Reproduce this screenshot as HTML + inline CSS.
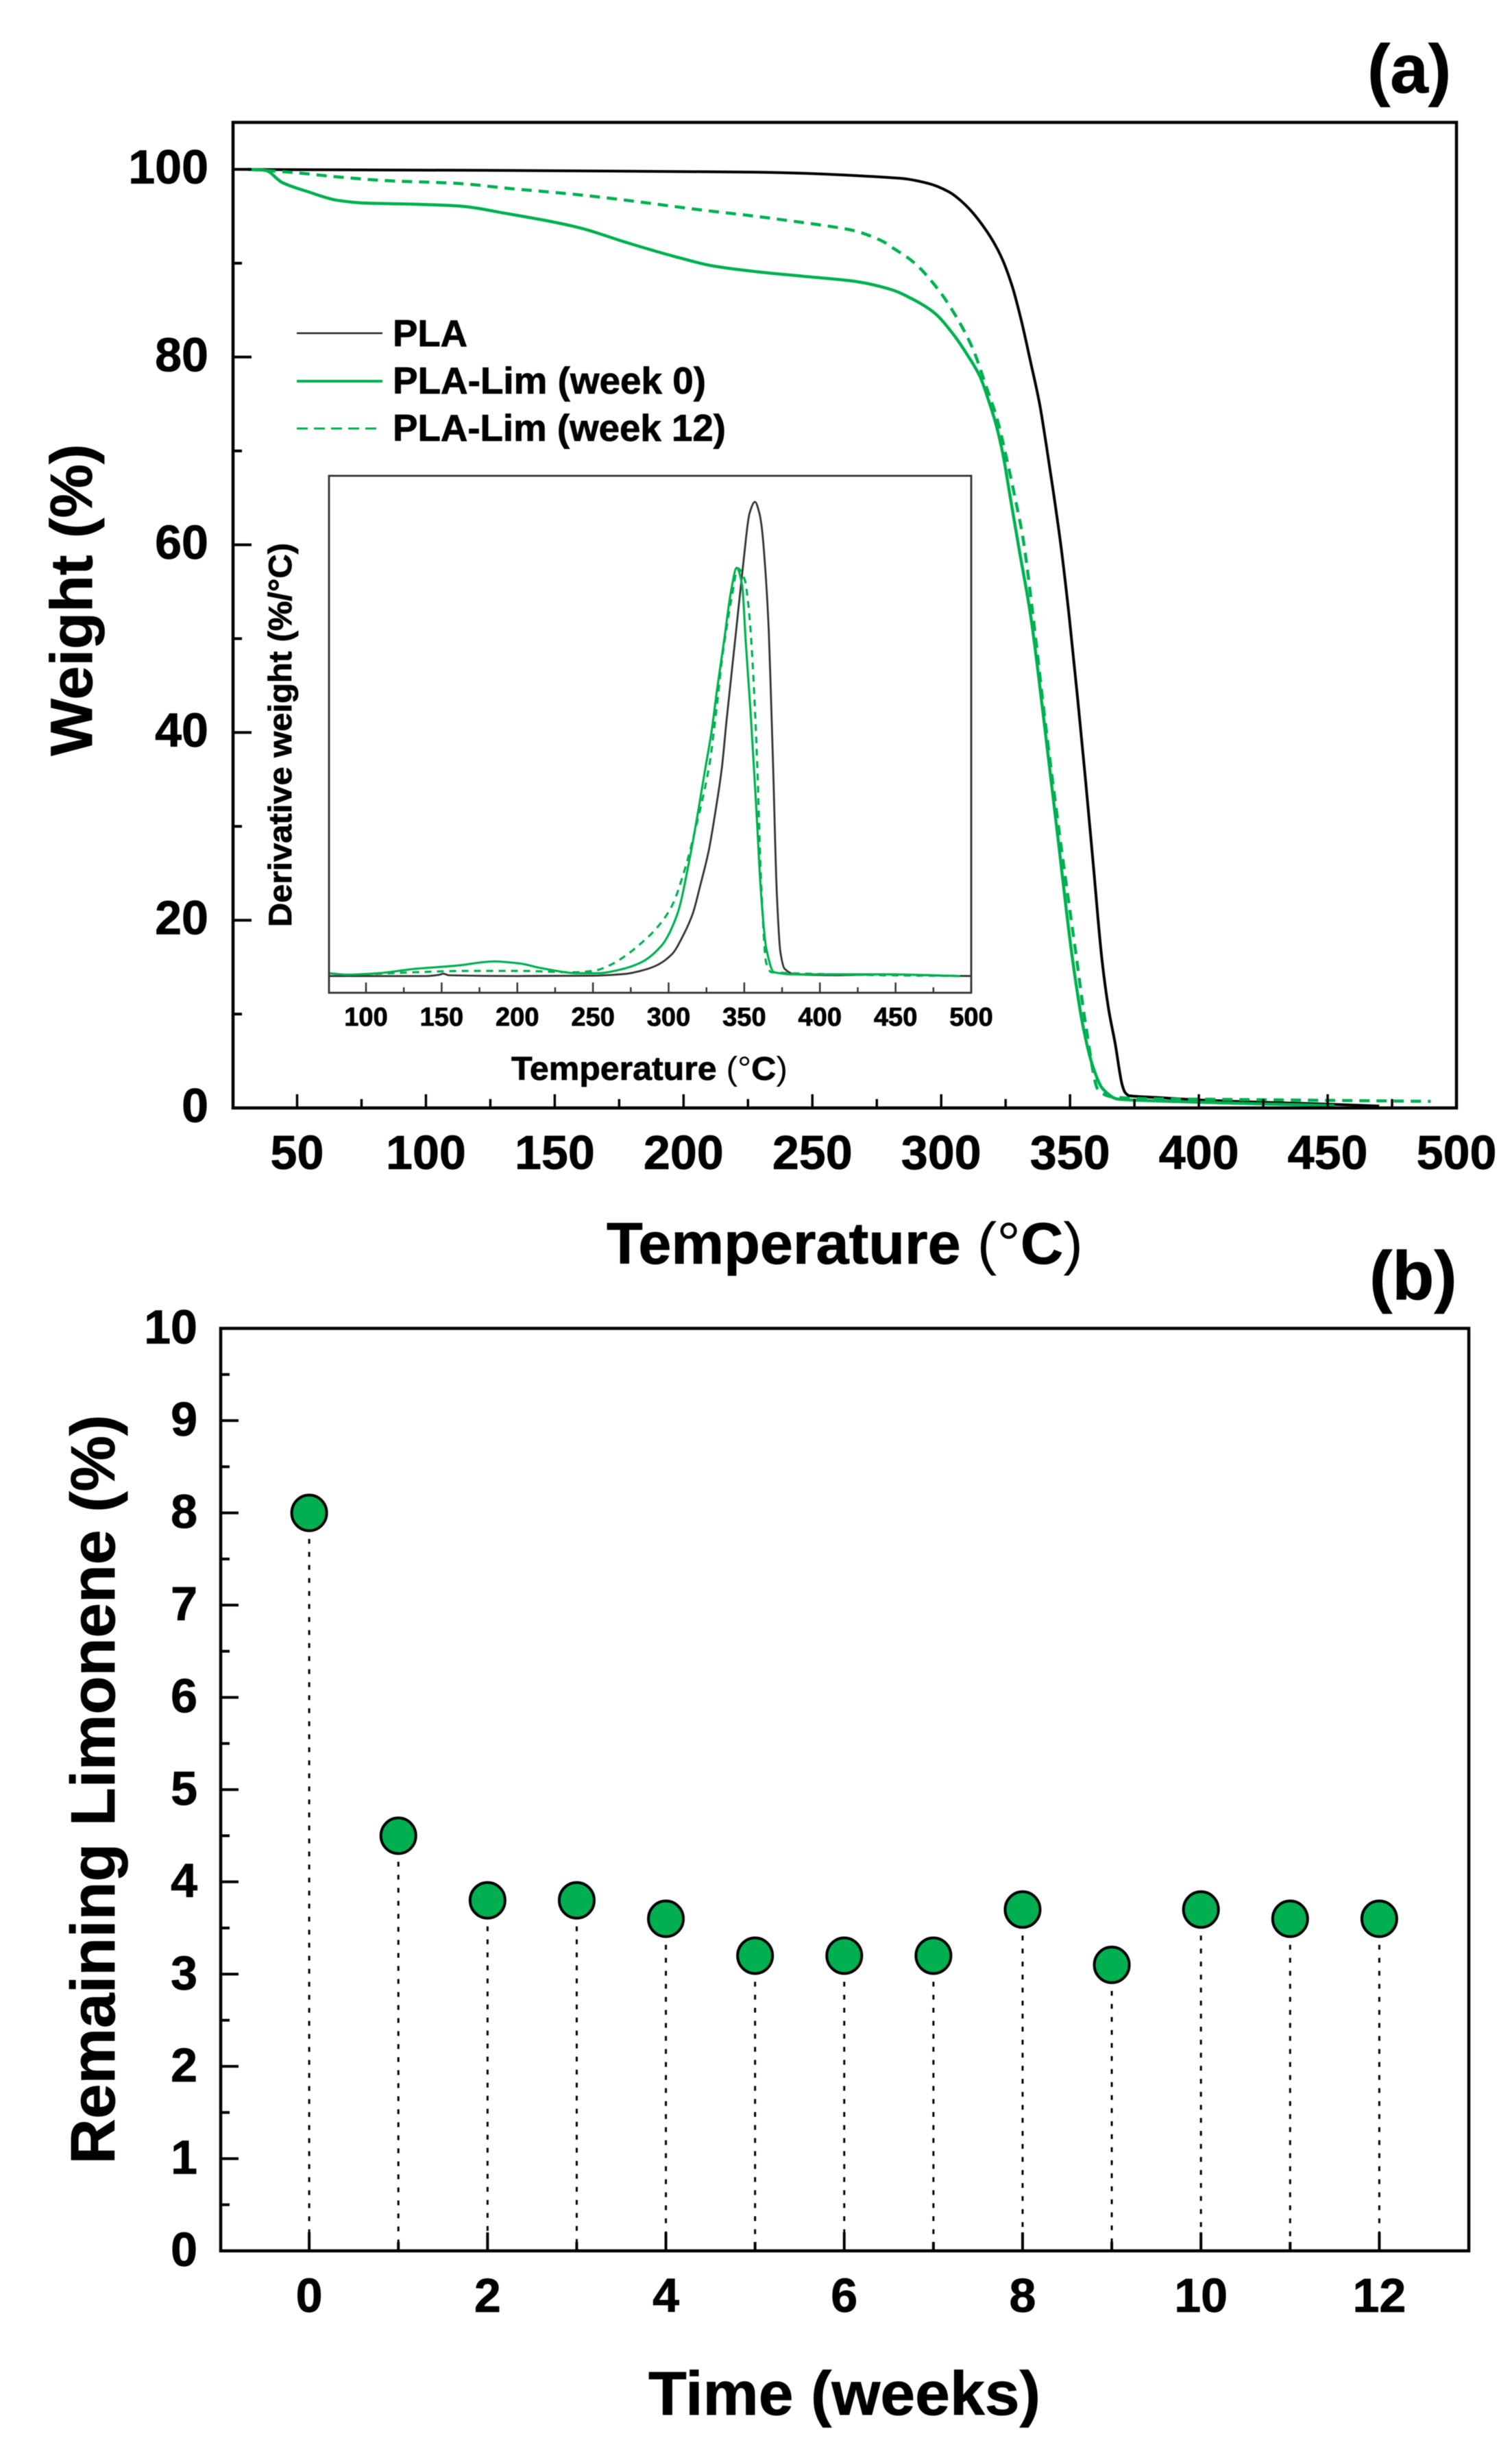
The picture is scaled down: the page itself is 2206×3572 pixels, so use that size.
<!DOCTYPE html>
<html lang="en">
<head>
<meta charset="utf-8">
<title>TGA curves and remaining limonene</title>
<style>
html,body{margin:0;padding:0;background:#fff;}
svg{display:block;filter:blur(0.6px);}
text{font-family:"Liberation Sans",Arial,sans-serif;font-weight:700;fill:#000;stroke:#000;stroke-width:0.8px;}
.thin{font-weight:400;stroke-width:0;}
</style>
</head>
<body>
<svg id="figure" xmlns="http://www.w3.org/2000/svg" width="2206" height="3572" viewBox="0 0 2206 3572">
  <rect x="0" y="0" width="2206" height="3572" fill="#fff"/>

  <text x="1995" y="135" font-size="100">(a)</text>
  <text x="1998" y="1895" font-size="100">(b)</text>

  <g id="panelA">
    <text transform="translate(134,875) rotate(-90)" text-anchor="middle" font-size="86" textLength="455" lengthAdjust="spacingAndGlyphs">Weight (%)</text>
    <text x="885" y="1843" font-size="85" textLength="695" lengthAdjust="spacingAndGlyphs">Temperature <tspan class="thin">(°</tspan>C<tspan class="thin">)</tspan></text>
  </g>

  <g id="legend">
    <g>
      <line x1="433" x2="558" y1="486" y2="486" stroke="#222" stroke-width="2.5"/>
      <text x="573" y="505" font-size="54.5">PLA</text>
    </g>
    <g>
      <line x1="433" x2="558" y1="556" y2="556" stroke="#00B050" stroke-width="4"/>
      <text x="573" y="574" font-size="54.5" textLength="457" lengthAdjust="spacingAndGlyphs">PLA-Lim (week 0)</text>
    </g>
    <g>
      <line x1="433" x2="550" y1="625" y2="625" stroke="#00B050" stroke-width="3" stroke-dasharray="16 9"/>
      <text x="573" y="643" font-size="54.5" textLength="486" lengthAdjust="spacingAndGlyphs">PLA-Lim (week 12)</text>
    </g>
  </g>

  <g id="inset">
    <text transform="translate(425,1072) rotate(-90)" text-anchor="middle" font-size="47" textLength="560" lengthAdjust="spacingAndGlyphs">Derivative weight (%/°C)</text>
    <text x="746" y="1575" font-size="48" textLength="403" lengthAdjust="spacingAndGlyphs">Temperature <tspan class="thin">(°</tspan>C<tspan class="thin">)</tspan></text>
  </g>

  <g id="panelB">
    <text transform="translate(167,2610) rotate(-90)" text-anchor="middle" font-size="91" textLength="1093" lengthAdjust="spacingAndGlyphs">Remaining Limonene (%)</text>
    <text x="946" y="3522" font-size="90" textLength="572" lengthAdjust="spacingAndGlyphs">Time (weeks)</text>
  </g>
</svg>

<script>
// ---- Panel (a): main TGA chart ----
const plaTemp = [25,60,120,180,228,284,295,303,309.8,317.7,323.1,327.5,331,334.6,338.2,340.8,343.5,346.6,349.7,353,356,359,362.4,365,367.5,370.3,371.5,373,385,400,425,450,470];
const plaWeight = [100,99.95,99.9,99.8,99.7,99.05,98.5,97.6,96.1,93.4,90.8,87.6,84,79.6,75,70.6,65.7,59.6,52.3,43.5,35,26,15.8,10.5,6.9,2.4,1.6,1.3,1.1,0.85,0.6,0.4,0.2];

const week0Temp = [31,37.6,44.2,54.4,65.7,76.9,93.8,112.4,131.2,159.3,177.9,196.7,211.6,228.2,246.7,265.6,280.5,289.4,297.4,304.5,310.7,315.1,318.6,321.3,324,326.6,330.2,334.8,340,345,351,355.2,359,362.8,368.4,377.8,415,452.6];
const week0Weight = [100,99.9,98.6,97.6,96.7,96.4,96.3,96.1,95.3,93.8,92.2,90.7,89.7,89.1,88.6,88.1,87.2,86.1,84.7,82.5,80,77.9,75.2,72.8,69.6,65.4,59.6,52.3,41,29.5,15.8,8.5,4.3,2,0.95,0.8,0.5,0.25];

const week12Temp = [31,47,65.6,84.4,112.4,131,159,178,206,228,239,252.4,265.6,276.8,281.4,289.3,299.1,307.1,312.4,317.3,321.8,325.3,328.9,331.8,335.7,340,346,352.6,356,361,366,377,415,452.6,490];
const week12Weight = [100,99.7,99.2,98.8,98.5,98,97.3,96.7,95.7,95,94.6,94.1,93.5,92.4,91.6,90.1,87.1,83.7,80.8,77,73.3,69.3,64.7,60.6,52.3,42,29,15.8,9,1.9,1.2,1,0.9,0.8,0.7];

const mainXMajor = [50,100,150,200,250,300,350,400,450,500];
const mainXMajorLabels = ["50","100","150","200","250","300","350","400","450","500"];
const mainXMinor = [75,125,175,225,275,325,375,425,475];
const mainYMajor = [0,20,40,60,80,100];
const mainYMajorLabels = ["0","20","40","60","80","100"];
const mainYMinor = [10,30,50,70,90];

// ---- Panel (a): inset derivative chart ----
const dPlaTemp = [75,140,148,151,155,200,250,271,281.4,291.8,302.2,310,316,321,326.5,331,335.2,338.2,344.3,349.6,353.5,357.1,360,361.6,363.9,366.2,367.7,369.1,371.5,373.9,376.7,383.6,409.6,444,479,500];
const dPlaRate = [0,0,0.006,0.012,0.004,0,0.002,0.011,0.027,0.055,0.115,0.22,0.33,0.48,0.66,0.87,1.098,1.34,1.796,2.194,2.44,2.5,2.44,2.363,2.146,1.82,1.46,1.098,0.44,0.126,0.038,0.009,0.004,0.009,0.002,0];

const dWeek0Temp = [75.4,87.5,108.3,132.5,160.2,184.5,201.8,215.6,239.9,253.7,267.6,281.4,295.3,305.7,314.3,324.6,328.4,332.2,336.7,341.3,345,348.6,351,354.1,356.3,358,361.1,364.5,369.7,381.9,444,492.7];
const dWeek0Rate = [0.015,0.007,0.015,0.038,0.055,0.077,0.066,0.042,0.015,0.015,0.033,0.07,0.16,0.325,0.635,1.11,1.29,1.52,1.77,2.03,2.152,2.06,1.76,1.4,1.11,0.88,0.436,0.148,0.02,0.009,0.009,0];

const dWeek12Temp = [98,132.5,167.2,201.8,236.4,250.3,260.7,271,281.4,291.8,302.2,311,316,326.9,329.9,332.4,335.2,338.2,342,345.7,350.3,352.6,354.1,355.6,357.1,358.6,361.1,364.5,368,409.6,444,492.7];
const dWeek12Rate = [0.009,0.02,0.027,0.027,0.02,0.027,0.055,0.104,0.17,0.25,0.37,0.57,0.72,1.11,1.29,1.46,1.665,1.83,2.01,2.15,2.09,1.965,1.83,1.64,1.4,1.11,0.5,0.07,0.02,0.009,0.004,0];

const insetXMajor = [100,150,200,250,300,350,400,450,500];
const insetXMajorLabels = ["100","150","200","250","300","350","400","450","500"];
const insetXMinor = [125,175,225,275,325,375,425,475];

// ---- Panel (b): remaining limonene ----
const limoneneWeeks = [0,1,2,3,4,5,6,7,8,9,10,11,12];
const limoneneValues = [8,4.5,3.8,3.8,3.6,3.2,3.2,3.2,3.7,3.1,3.7,3.6,3.6];
const limoneneXMajor = [0,2,4,6,8,10,12];
const limoneneXMajorLabels = ["0","2","4","6","8","10","12"];
const limoneneXMinor = [1,3,5,7,9,11];
const limoneneYMajor = [0,1,2,3,4,5,6,7,8,9,10];
const limoneneYMajorLabels = ["0","1","2","3","4","5","6","7","8","9","10"];
const limoneneYMinor = [0.5,1.5,2.5,3.5,4.5,5.5,6.5,7.5,8.5,9.5];

const GREEN = "#00B050";
const NS = "http://www.w3.org/2000/svg";

// Axis functions
const linear = (d0,d1,r0,r1) => v => r0 + (v-d0)*(r1-r0)/(d1-d0);
const mainX = linear(25,500,339.5,2125);
const mainY = linear(0,100,1616,247);
const insetX = linear(100,500,534,1417);
const insetY = linear(0,2.5,1423.6,732);
const limX = linear(-1,13,321,2142.5);
const limY = linear(0,10,3283,1937.5);

function el(tag,parent){
  const e = document.createElementNS(NS,tag);
  parent.appendChild(e);
  return e;
}

// Monotone cubic path through the data points
function curvePath(xs,ys){
  const n = xs.length, d = [], m = [];
  for(let i=0;i<n-1;i++) d.push((ys[i+1]-ys[i])/(xs[i+1]-xs[i]));
  m[0]=d[0]; m[n-1]=d[n-2];
  for(let i=1;i<n-1;i++){
    m[i] = d[i-1]*d[i]<=0 ? 0 : 2*d[i-1]*d[i]/(d[i-1]+d[i]);
  }
  let p = "M"+xs[0].toFixed(2)+" "+ys[0].toFixed(2);
  for(let i=0;i<n-1;i++){
    const h=(xs[i+1]-xs[i])/3;
    p += "C"+(xs[i]+h).toFixed(2)+" "+(ys[i]+m[i]*h).toFixed(2)+" "+(xs[i+1]-h).toFixed(2)+" "+(ys[i+1]-m[i+1]*h).toFixed(2)+" "+xs[i+1].toFixed(2)+" "+ys[i+1].toFixed(2);
  }
  return p;
}

function drawCurve(parent,temps,vals,fx,fy,color,width,dash,name){
  const path = el("path",parent);
  path.setAttribute("d",curvePath(temps.map(fx),vals.map(fy)));
  path.setAttribute("fill","none");
  path.setAttribute("stroke",color);
  path.setAttribute("stroke-width",width);
  path.setAttribute("stroke-linejoin","round");
  if(dash) path.setAttribute("stroke-dasharray",dash);
  
  
}

function drawLine(parent,x1,y1,x2,y2,color,width,name){
  const l = el("line",parent);
  l.setAttribute("x1",x1);
  l.setAttribute("y1",y1);
  l.setAttribute("x2",x2);
  l.setAttribute("y2",y2);
  l.setAttribute("stroke",color);
  l.setAttribute("stroke-width",width);
  
  
  return l;
}

function drawText(parent,x,y,size,anchor,str,name){
  const t = el("text",parent);
  t.setAttribute("x",x);
  t.setAttribute("y",y);
  t.setAttribute("font-size",size);
  t.setAttribute("text-anchor",anchor);
  t.textContent = str;
  
  
}

function drawFrame(parent,x,y,w,h,color,width,name){
  const r = el("rect",parent);
  r.setAttribute("x",x);
  r.setAttribute("y",y);
  r.setAttribute("width",w);
  r.setAttribute("height",h);
  r.setAttribute("fill","none");
  r.setAttribute("stroke",color);
  r.setAttribute("stroke-width",width);
  
  
}

// ---------- Panel (a) ----------
const panelA = document.getElementById("panelA");
drawCurve(panelA,plaTemp,plaWeight,mainX,mainY,"#000",4,null,"curve-pla");
drawCurve(panelA,week0Temp,week0Weight,mainX,mainY,GREEN,4.5,null,"curve-week-0");
drawCurve(panelA,week12Temp,week12Weight,mainX,mainY,GREEN,4.5,"15 10","curve-week-12");
drawFrame(panelA,340,178.5,1785,1437.5,"#000",4.5,"weight-plot-frame");
mainXMajor.forEach((v,i)=>{
  drawLine(panelA,mainX(v),1616,mainX(v),1596,"#000",3.5,"weight-x-major-tick");
  drawText(panelA,mainX(v),1705,70,"middle",mainXMajorLabels[i],"weight-x-tick-label");
});
mainXMinor.forEach(v=>{
  drawLine(panelA,mainX(v),1616,mainX(v),1603,"#000",3.5,"weight-x-minor-tick");
});
mainYMajor.forEach((v,i)=>{
  drawLine(panelA,340,mainY(v),367,mainY(v),"#000",4,"weight-y-major-tick");
  drawText(panelA,304,mainY(v)+20.5,70,"end",mainYMajorLabels[i],"weight-y-tick-label");
});
mainYMinor.forEach(v=>{
  drawLine(panelA,340,mainY(v),353,mainY(v),"#000",4,"weight-y-minor-tick");
});

// ---------- Inset ----------
const inset = document.getElementById("inset");
drawCurve(inset,dPlaTemp,dPlaRate,insetX,insetY,"#333",2.8,null,"inset-curve-pla");
drawCurve(inset,dWeek0Temp,dWeek0Rate,insetX,insetY,GREEN,3.2,null,"inset-curve-week-0");
drawCurve(inset,dWeek12Temp,dWeek12Rate,insetX,insetY,GREEN,3.2,"10 8","inset-curve-week-12");
drawFrame(inset,480,694,937,754,"#333",2.8,"inset-plot-frame");
insetXMajor.forEach((v,i)=>{
  drawLine(inset,insetX(v),1448,insetX(v),1433,"#333",2.5,"inset-x-major-tick");
  drawText(inset,insetX(v),1496,38,"middle",insetXMajorLabels[i],"inset-x-tick-label");
});
insetXMinor.forEach(v=>{
  drawLine(inset,insetX(v),1448,insetX(v),1440,"#333",2.5,"inset-x-minor-tick");
});

// ---------- Panel (b) ----------
const panelB = document.getElementById("panelB");
limoneneWeeks.forEach((w,i)=>{
  drawLine(panelB,limX(w),limY(limoneneValues[i])+38,limX(w),3283,"#000",3,"limonene-drop-line")
    .setAttribute("stroke-dasharray","7 12");
});
drawFrame(panelB,322,1937.5,1821,1345.5,"#000",4.5,"limonene-plot-frame");
limoneneXMajor.forEach((v,i)=>{
  drawLine(panelB,limX(v),3283,limX(v),3256,"#000",4,"limonene-x-major-tick");
  drawText(panelB,limX(v),3372,70,"middle",limoneneXMajorLabels[i],"limonene-x-tick-label");
});
limoneneXMinor.forEach(v=>{
  drawLine(panelB,limX(v),3283,limX(v),3270,"#000",4,"limonene-x-minor-tick");
});
limoneneYMajor.forEach((v,i)=>{
  drawLine(panelB,322,limY(v),348,limY(v),"#000",4,"limonene-y-major-tick");
  drawText(panelB,288,limY(v)+22,70,"end",limoneneYMajorLabels[i],"limonene-y-tick-label");
});
limoneneYMinor.forEach(v=>{
  drawLine(panelB,322,limY(v),335,limY(v),"#000",4,"limonene-y-minor-tick");
});
limoneneWeeks.forEach((w,i)=>{
  const c = el("ellipse",panelB);
  c.setAttribute("cx",limX(w));
  c.setAttribute("cy",limY(limoneneValues[i]));
  c.setAttribute("rx",25.5);
  c.setAttribute("ry",26);
  c.setAttribute("fill",GREEN);
  c.setAttribute("stroke","#000");
  c.setAttribute("stroke-width",4);
  
  
});
</script>
</body>
</html>
